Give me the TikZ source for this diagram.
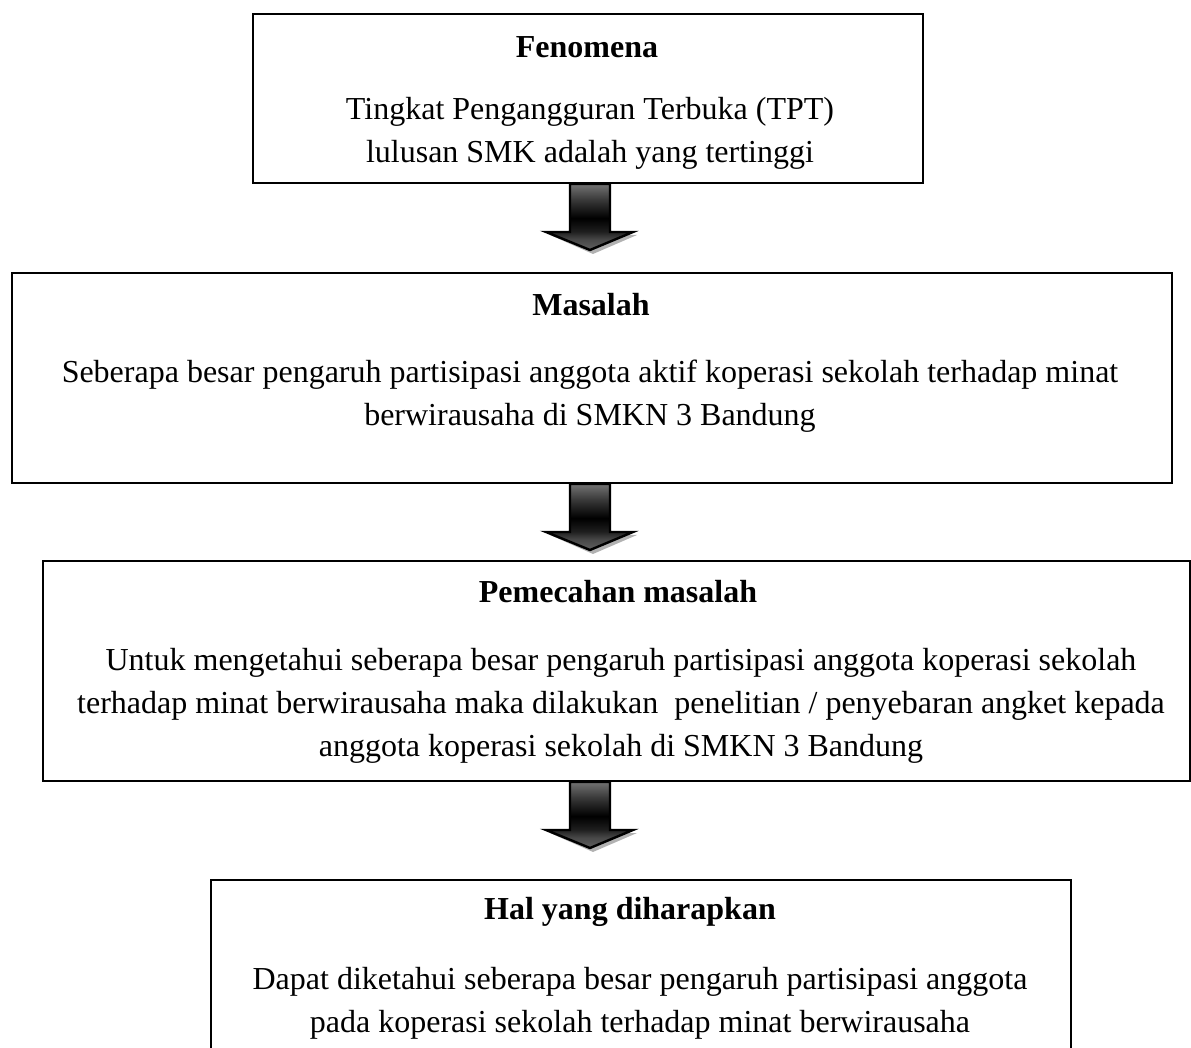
\documentclass[tikz,border=0pt]{standalone}
\usepackage{fontspec}
\setmainfont{Liberation Serif}
\pgfdeclareverticalshading{arrsh}{100bp}{color(0bp)=(black!62); color(25bp)=(black!62); color(33bp)=(black!72); color(39bp)=(black!88); color(49bp)=(black); color(63bp)=(black!78); color(75bp)=(black!55); color(100bp)=(black!55)}
\begin{document}
\begin{tikzpicture}[x=0.5pt,y=-0.5pt,
  box/.style={draw=black, line width=1pt, anchor=north west, inner sep=0pt},
  txt/.style={align=center, inner sep=0pt, font=\fontsize{16}{21.5}\selectfont},
  head/.style={align=center, inner sep=0pt, font=\fontsize{16}{21.5}\selectfont\bfseries}]
\useasboundingbox (0,0) rectangle (1191,1048);
\clip (0,0) rectangle (1191,1048);
\newcommand{\blockarrow}[1]{%
  \begin{scope}[shift={(#1)}]
    \fill[black!30] (-40,51) -- (-17,51) -- (23,51) -- (47,51) -- (3,70) -- cycle;
    \shade[shading=arrsh, draw=black, line width=1.2pt]
      (-20,0) -- (20,0) -- (20,48) -- (43,48) -- (0,66) -- (-44,48) -- (-20,48) -- cycle;
  \end{scope}}
% boxes
\node[box, minimum width=335pt, minimum height=84.5pt] (b1) at (252,13) {};
\node[box, minimum width=580pt, minimum height=105pt] (b2) at (11,272) {};
\node[box, minimum width=573.5pt, minimum height=110pt] (b3) at (42,560) {};
\node[box, minimum width=430pt, minimum height=110pt] (b4) at (210,879) {};
% arrows
\coordinate (a1) at (b1.south -| 590,0);
\coordinate (a2) at (b2.south -| 590,0);
\coordinate (a3) at (b3.south -| 590,0);
\blockarrow{a1}
\blockarrow{a2}
\blockarrow{a3}
% texts
\node[head] (h1) at (587,47) {Fenomena};
\node[txt] (t1) at (590,133.5) {Tingkat Pengangguran Terbuka (TPT)\\lulusan SMK adalah yang tertinggi};
\node[head] (h2) at (591,305) {Masalah};
\node[txt] (t2) at (590,396.5) {Seberapa besar pengaruh partisipasi anggota aktif koperasi sekolah terhadap minat\\berwirausaha di SMKN 3 Bandung};
\node[head] (h3) at (618,592) {Pemecahan masalah};
\node[txt] (t3) at (621,705.5) {Untuk mengetahui seberapa besar pengaruh partisipasi anggota koperasi sekolah\\terhadap minat berwirausaha maka dilakukan \ penelitian / penyebaran angket kepada\\anggota koperasi sekolah di SMKN 3 Bandung};
\node[head] (h4) at (630,912) {Hal yang diharapkan};
\node[txt] (t4) at (640,1003.5) {Dapat diketahui seberapa besar pengaruh partisipasi anggota\\pada koperasi sekolah terhadap minat berwirausaha};
\end{tikzpicture}
\end{document}
